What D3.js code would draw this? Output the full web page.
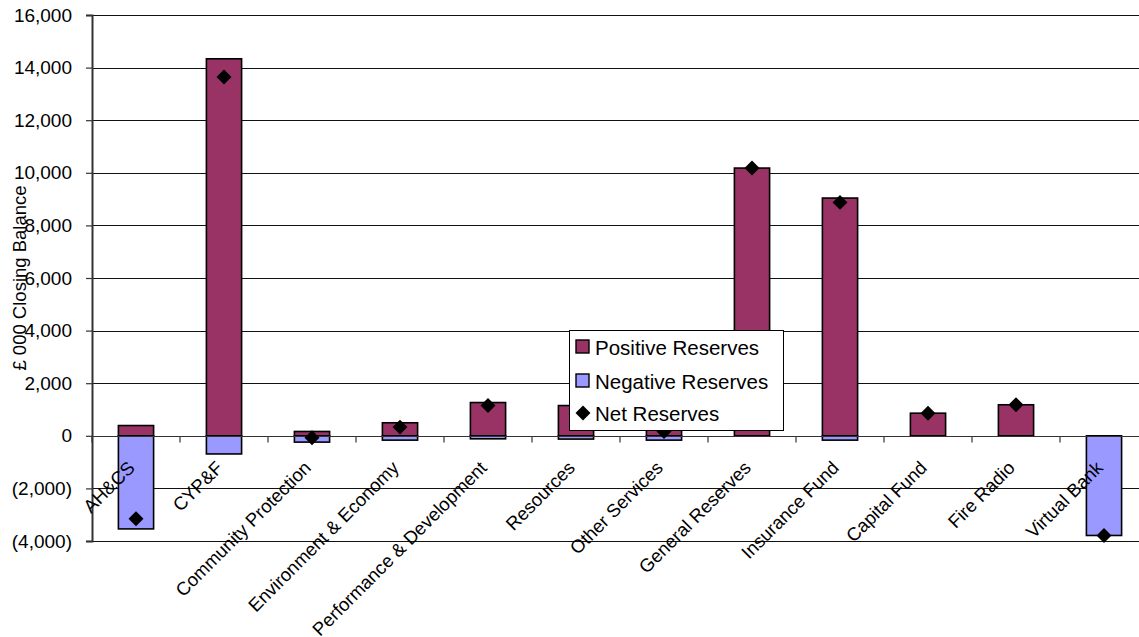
<!DOCTYPE html>
<html>
<head>
<meta charset="utf-8">
<script src="https://cdn.jsdelivr.net/npm/d3@7"></script>
<style>
  html, body { margin: 0; padding: 0; background: #fff; overflow: hidden; }
  text { font-family: "Liberation Sans", Arial, sans-serif; fill: #000; }
</style>
</head>
<body>
<svg id="chart" width="1139" height="637"></svg>
<script>
const categories = ["AH&CS", "CYP&F", "Community Protection", "Environment & Economy",
  "Performance & Development", "Resources", "Other Services", "General Reserves",
  "Insurance Fund", "Capital Fund", "Fire Radio", "Virtual Bank"];
const positiveReserves = [390, 14335, 165, 495, 1265, 1150, 330, 10180, 9040, 860, 1180, 0];
const negativeReserves = [-3540, -690, -240, -165, -115, -125, -165, 0, -165, 0, 0, -3790];
const netReserves = [-3150, 13645, -75, 330, 1150, 1025, 165, 10180, 8875, 860, 1180, -3790];
const yTicks = [-4000, -2000, 0, 2000, 4000, 6000, 8000, 10000, 12000, 14000, 16000];
const seriesNames = ["Positive Reserves", "Negative Reserves", "Net Reserves"];
const yTitle = "£ 000 Closing Balance";

const colPos = "#993366", colNeg = "#9999FF";
const svg = d3.select("#chart");
const plotLeft = 92, plotRight = 1148, plotTop = 15, plotBottom = 541;

const x = d3.scaleBand().domain(categories).range([plotLeft, plotRight]).paddingInner(0).paddingOuter(0);
const y = d3.scaleLinear().domain([-4000, 16000]).range([plotBottom, plotTop]);
const barW = x.bandwidth() * 0.4;

const fmt = v => v < 0 ? "(" + d3.format(",")(-v) + ")" : d3.format(",")(v);

// gridlines
svg.append("g").selectAll("line").data(yTicks).join("line")
  .attr("x1", plotLeft).attr("x2", plotRight)
  .attr("y1", d => Math.round(y(d)) + 0.5).attr("y2", d => Math.round(y(d)) + 0.5)
  .attr("stroke", "#111").attr("stroke-width", 1);

// bars
const bars = svg.append("g");
categories.forEach((c, i) => {
  const cx = x(c) + x.bandwidth() / 2;
  if (positiveReserves[i] > 0) {
    bars.append("rect")
      .attr("x", cx - barW / 2).attr("width", barW)
      .attr("y", y(positiveReserves[i])).attr("height", y(0) - y(positiveReserves[i]))
      .attr("fill", colPos).attr("stroke", "#000").attr("stroke-width", 1.6);
  }
  if (negativeReserves[i] < 0) {
    bars.append("rect")
      .attr("x", cx - barW / 2).attr("width", barW)
      .attr("y", y(0)).attr("height", y(negativeReserves[i]) - y(0))
      .attr("fill", colNeg).attr("stroke", "#000").attr("stroke-width", 1.6);
  }
});

// zero line + x ticks
const y0 = Math.round(y(0)) + 0.5;
svg.append("line").attr("x1", plotLeft).attr("x2", plotRight).attr("y1", y0).attr("y2", y0)
  .attr("stroke", "#333").attr("stroke-width", 1.2);
svg.append("g").selectAll("line").data(categories).join("line")
  .attr("x1", d => x(d)).attr("x2", d => x(d))
  .attr("y1", y0).attr("y2", y0 + 6)
  .attr("stroke", "#333").attr("stroke-width", 1.2);

// y axis
const yAxis = d3.axisLeft(y).tickValues(yTicks).tickFormat(fmt).tickSize(6).tickPadding(14);
const gy = svg.append("g").attr("transform", `translate(${plotLeft},0)`).call(yAxis);
gy.select(".domain").attr("stroke", "#333").attr("stroke-width", 2);
gy.selectAll(".tick line").attr("stroke", "#333").attr("stroke-width", 1.2);
gy.selectAll(".tick text").attr("font-size", 19).attr("font-family", "Liberation Sans, Arial, sans-serif").attr("fill", "#000");

// diamonds
svg.append("g").selectAll("path").data(categories).join("path")
  .attr("d", d3.symbol().type(d3.symbolSquare).size(112))
  .attr("transform", (d, i) => `translate(${x(d) + x.bandwidth() / 2},${y(netReserves[i])}) rotate(45)`)
  .attr("fill", "#000");

// x labels
svg.append("g").selectAll("text").data(categories).join("text")
  .attr("transform", d => `translate(${x(d) + x.bandwidth() / 2},469) rotate(-45)`)
  .attr("text-anchor", "end")
  .attr("font-size", 18.5)
  .text(d => d);

// y title
svg.append("text")
  .attr("transform", `translate(25.5,${(185 + 371) / 2}) rotate(-90)`)
  .attr("text-anchor", "middle")
  .attr("font-size", 18.5)
  .text(yTitle);

// legend
const lg = svg.append("g").attr("transform", "translate(569,330)");
lg.append("rect").attr("x", 0.5).attr("y", 0.5).attr("width", 214).attr("height", 100)
  .attr("fill", "#fff").attr("stroke", "#000").attr("stroke-width", 1);
const rowY = [17, 51, 83];
lg.append("rect").attr("x", 7).attr("y", rowY[0] - 7).attr("width", 13).attr("height", 13)
  .attr("fill", colPos).attr("stroke", "#000").attr("stroke-width", 1.4);
lg.append("rect").attr("x", 7).attr("y", rowY[1] - 7).attr("width", 13).attr("height", 13)
  .attr("fill", colNeg).attr("stroke", "#000").attr("stroke-width", 1.4);
lg.append("path").attr("d", d3.symbol().type(d3.symbolSquare).size(112))
  .attr("transform", `translate(14,${rowY[2]}) rotate(45)`).attr("fill", "#000");
lg.selectAll("text.lt").data(seriesNames).join("text").attr("class", "lt")
  .attr("x", 26).attr("y", (d, i) => rowY[i] + 7.5)
  .attr("font-size", 20.5)
  .text(d => d);
</script>
</body>
</html>
